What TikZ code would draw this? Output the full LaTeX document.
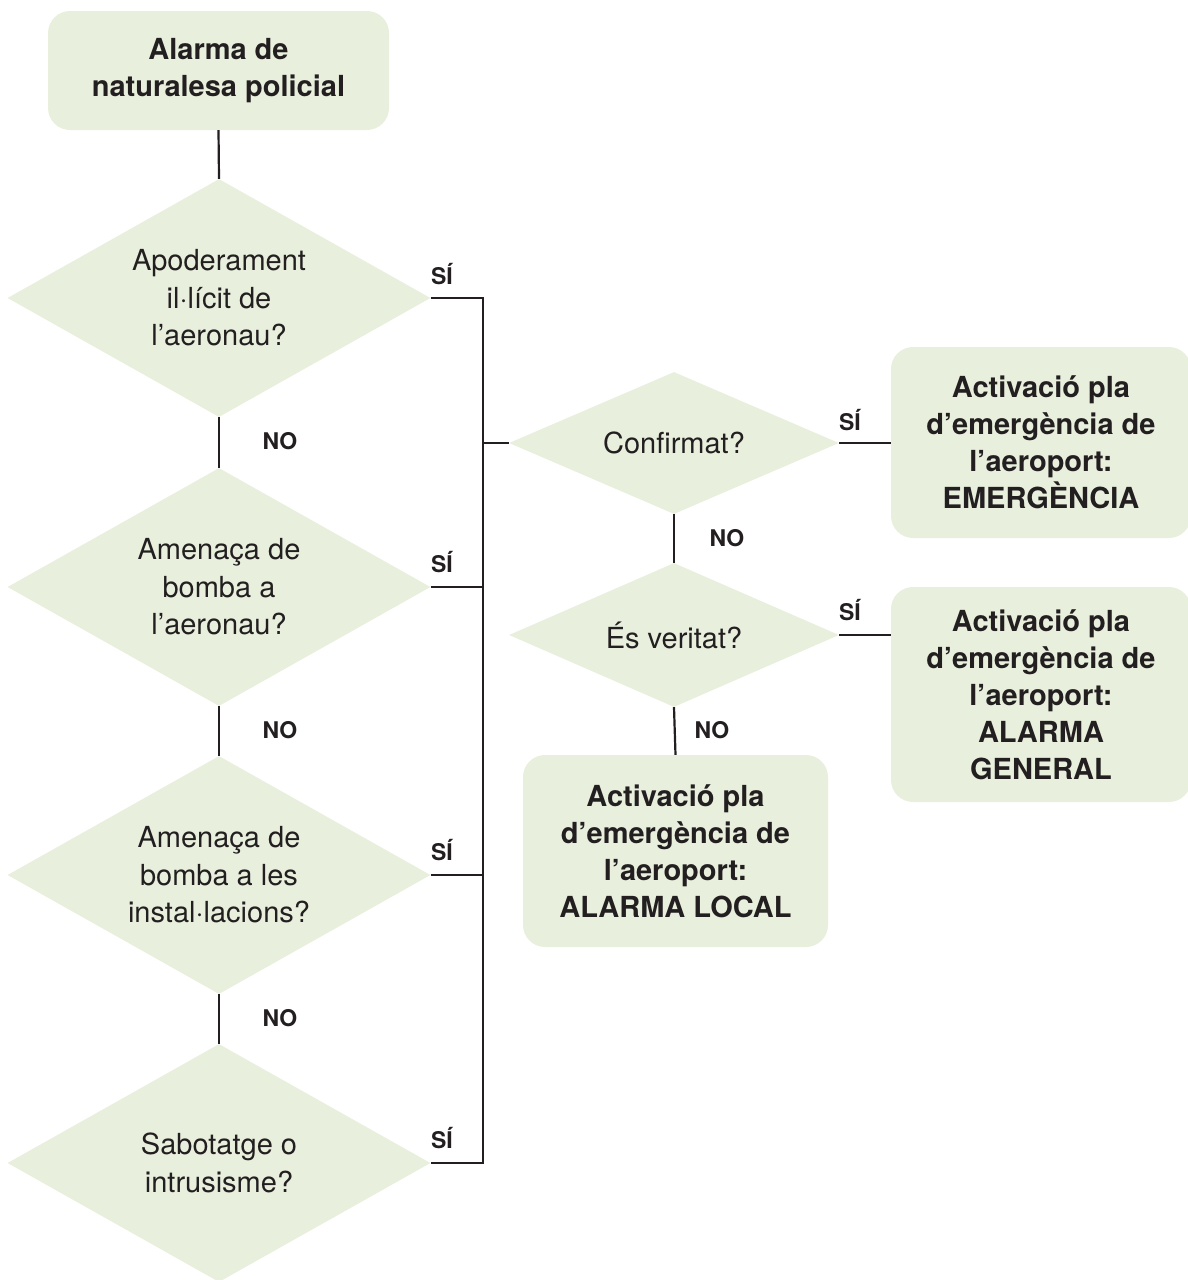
\documentclass[tikz,border=0pt]{standalone}
\usepackage{fontspec}
\setmainfont{TeX Gyre Heros}
\usetikzlibrary{shapes.geometric}
\definecolor{boxfill}{RGB}{232,240,221}
\definecolor{ink}{RGB}{35,31,32}
\tikzset{
  base/.style={fill=boxfill, draw=none, inner sep=0pt, align=center, text=ink,
               font=\fontsize{29}{37.5}\selectfont},
  endbox/.style={base, rounded corners=22pt, font=\fontsize{29}{37}\selectfont\bfseries},
  question/.style={base, diamond, aspect=1.78},
  link/.style={draw=ink, line width=2.2pt},
  answer/.style={text=ink, inner sep=0pt, font=\fontsize{23}{27}\selectfont\bfseries}
}
\begin{document}
\begin{tikzpicture}[x=1pt, y=-1pt]
\useasboundingbox (0,0) rectangle (1188,1280);

% left column: start box and the four questions
\node[endbox, minimum width=341pt, minimum height=119pt] (start) at (218.5,70.5)
  {Alarma de\\naturalesa policial};
\node[question, minimum width=423pt, minimum height=238pt] (q1) at (219,298)
  {Apoderament\\il·lícit de\\l’aeronau?};
\node[question, minimum width=423pt, minimum height=238pt] (q2) at (219,587)
  {Amenaça de\\bomba a\\l’aeronau?};
\node[question, minimum width=423pt, minimum height=238pt] (q3) at (219,875)
  {Amenaça de\\bomba a les\\instal·lacions?};
\node[question, minimum width=423pt, minimum height=238pt] (q4) at (219,1163)
  {Sabotatge o\\intrusisme?};

% right part: checks and resulting plans
\node[question, minimum width=330pt, minimum height=142pt] (conf) at (674,443)
  {Confirmat?};
\node[question, minimum width=330pt, minimum height=144pt] (ver) at (674,635)
  {És veritat?};
\node[endbox, minimum width=300pt, minimum height=191pt] (emerg) at (1041,442.5)
  {Activació pla\\d’emergència de\\l’aeroport:\\EMERGÈNCIA};
\node[endbox, minimum width=300pt, minimum height=215pt] (general) at (1041,694.5)
  {Activació pla\\d’emergència de\\l’aeroport:\\ALARMA\\GENERAL};
\node[endbox, minimum width=305pt, minimum height=192pt] (local) at (675.5,851)
  {Activació pla\\d’emergència de\\l’aeroport:\\ALARMA LOCAL};

% collecting bus on the right of the questions
\coordinate (bus) at (483,0);

% connectors
\draw[link] (start.south) -- (q1.north);
\draw[link] (q1.south) -- (q2.north);
\draw[link] (q2.south) -- (q3.north);
\draw[link] (q3.south) -- (q4.north);
\draw[link] (q1.east) -- (q1.east -| bus) -- (q4.east -| bus) -- (q4.east);
\draw[link] (q2.east) -- (q2.east -| bus);
\draw[link] (q3.east) -- (q3.east -| bus);
\draw[link] (conf.west -| bus) -- (conf.west);
\draw[link] (conf.east) -- (conf.east -| emerg.west);
\draw[link] (conf.south) -- (ver.north);
\draw[link] (ver.east) -- (ver.east -| general.west);
\draw[link] (ver.south) -- (local.north);

% answer labels
\node[answer] (y1) at (442,274) {SÍ};
\node[answer] (y2) at (442,562) {SÍ};
\node[answer] (y3) at (442,850) {SÍ};
\node[answer] (y4) at (442,1138) {SÍ};
\node[answer] (n1) at (280,441) {NO};
\node[answer] (n2) at (280,730) {NO};
\node[answer] (n3) at (280,1018) {NO};
\node[answer] (y5) at (850,420) {SÍ};
\node[answer] (y6) at (850,610) {SÍ};
\node[answer] (n4) at (727,538) {NO};
\node[answer] (n5) at (712,730) {NO};
\end{tikzpicture}
\end{document}
